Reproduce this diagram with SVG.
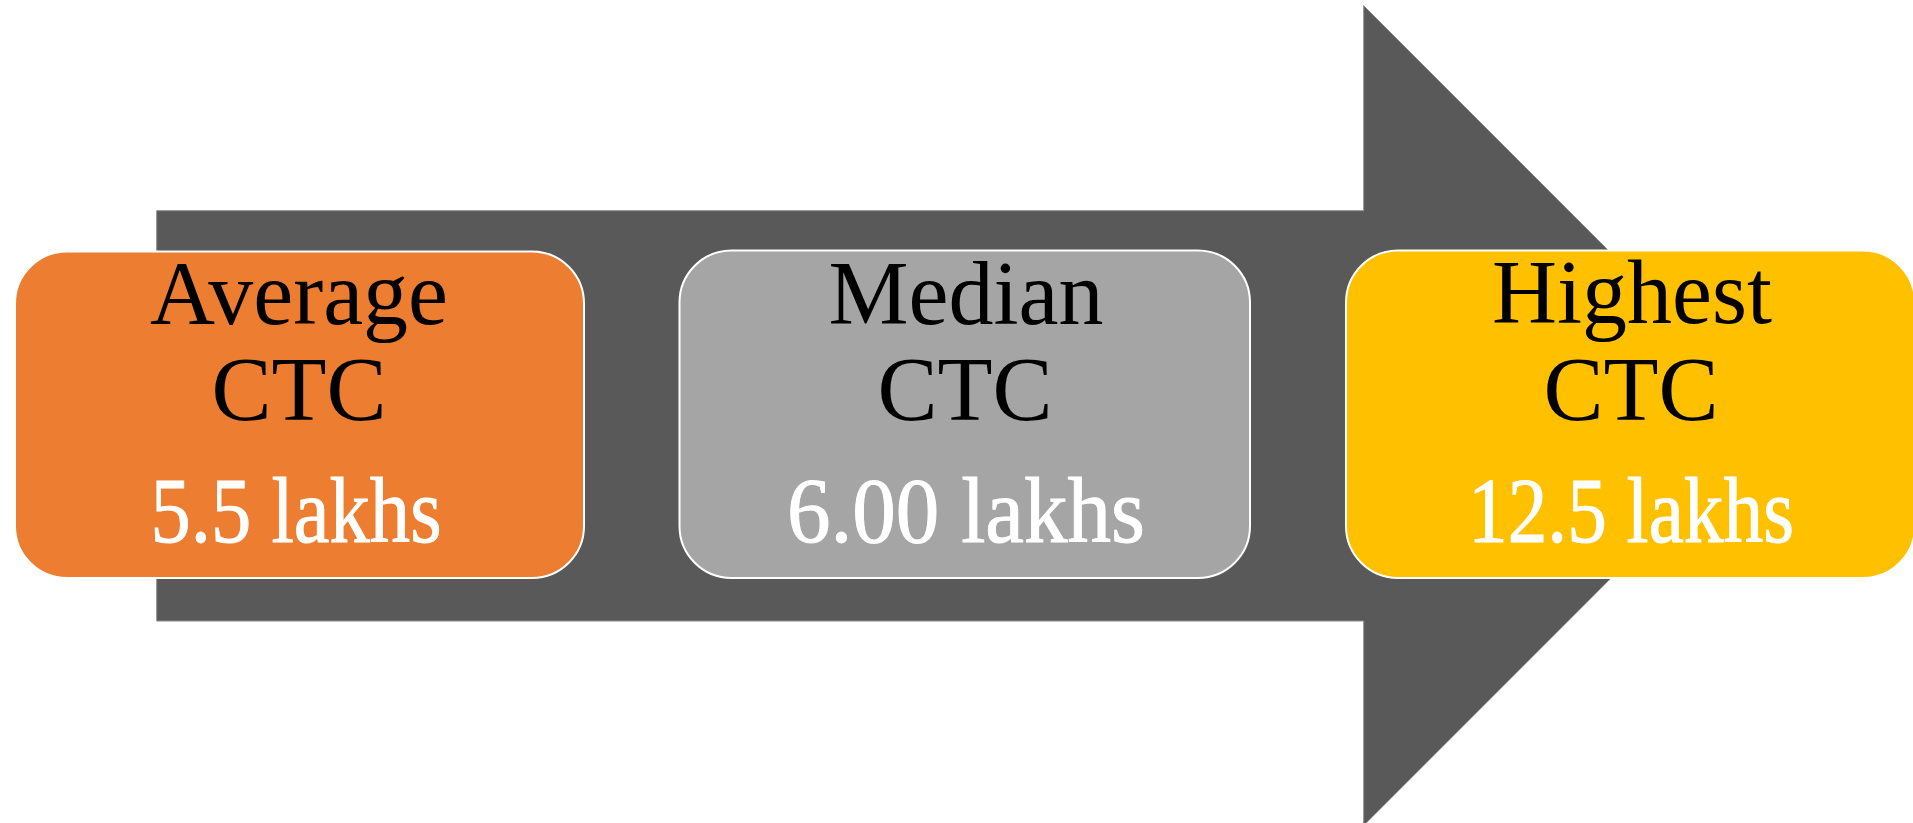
<svg xmlns="http://www.w3.org/2000/svg" width="1913" height="823" viewBox="0 0 1913 823">
  <style>
    .box { stroke: #ffffff; stroke-width: 2; }
    .lbl { font-family: "Liberation Serif", "Times New Roman", serif; font-size: 90px; fill: #000000; text-anchor: middle; }
    .val { font-family: "Liberation Serif", "Times New Roman", serif; font-size: 94px; fill: #ffffff; stroke: #ffffff; stroke-width: 1; text-anchor: middle; }
  </style>
  <rect x="0" y="0" width="1913" height="823" fill="#ffffff"/>
  <g id="connectors">
    <polygon id="arrow" points="156.7,210.7 1363.7,210.7 1363.7,5.7 1773.5,415.6 1363.7,825.5 1363.7,621 156.7,621" fill="#595959" stroke="#8c8c8c" stroke-width="1"/>
  </g>
  <g id="node-average">
    <rect class="box" x="15" y="251.5" width="569" height="326.5" rx="52" ry="52" fill="#ED7D31"/>
    <text class="lbl" x="299" y="324">Average</text>
    <text class="lbl" x="299" y="420">CTC</text>
    <text class="val" x="296" y="542" textLength="291" lengthAdjust="spacingAndGlyphs">5.5 lakhs</text>
  </g>
  <g id="node-median">
    <rect class="box" x="679.5" y="250.5" width="570.5" height="327.5" rx="52" ry="52" fill="#A5A5A5"/>
    <text class="lbl" x="966" y="324">Median</text>
    <text class="lbl" x="965" y="420">CTC</text>
    <text class="val" x="966" y="542" textLength="358" lengthAdjust="spacingAndGlyphs">6.00 lakhs</text>
  </g>
  <g id="node-highest">
    <rect class="box" x="1346" y="250.5" width="569" height="327.5" rx="52" ry="52" fill="#FFC000"/>
    <text class="lbl" x="1632" y="323">Highest</text>
    <text class="lbl" x="1631" y="420">CTC</text>
    <text class="val" x="1631" y="542" textLength="326" lengthAdjust="spacingAndGlyphs">12.5 lakhs</text>
  </g>
</svg>
